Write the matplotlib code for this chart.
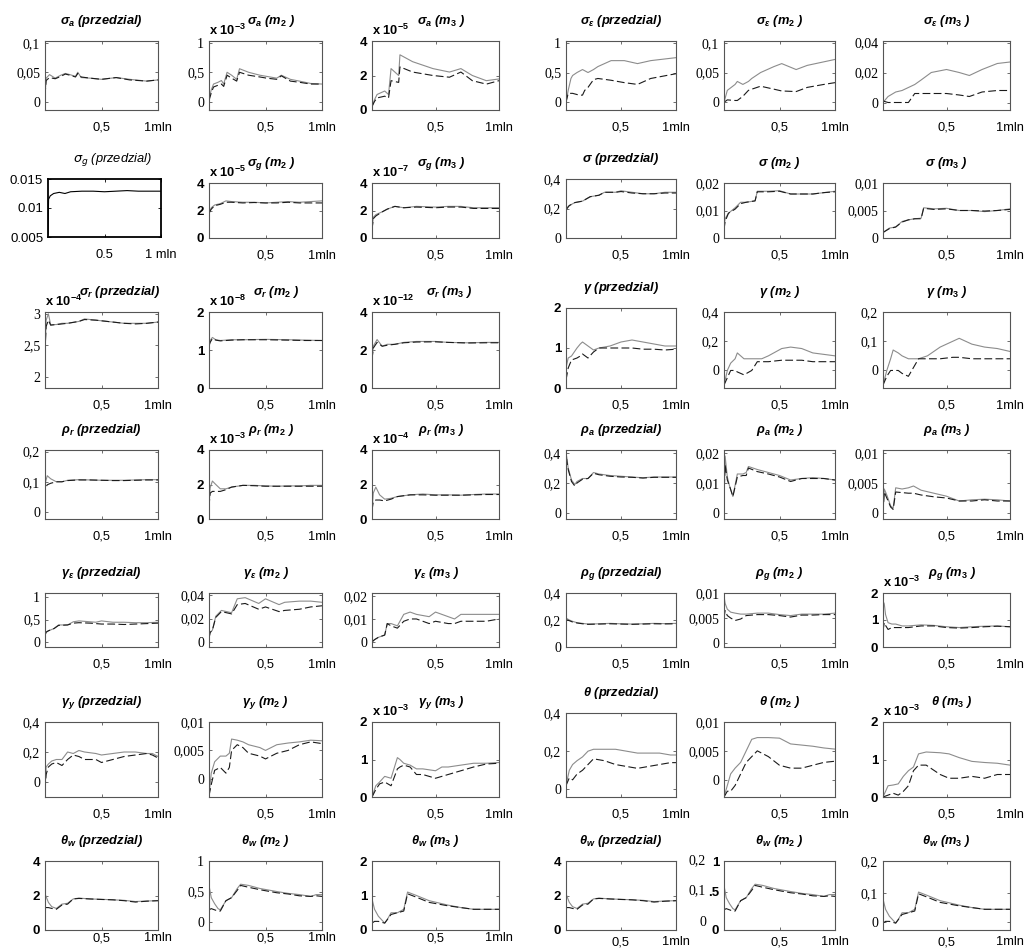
import matplotlib
matplotlib.use("Agg")
import matplotlib.pyplot as plt

plt.rcParams['mathtext.fontset'] = 'custom'
plt.rcParams['mathtext.rm'] = 'Liberation Sans:bold'
plt.rcParams['mathtext.it'] = 'Liberation Sans:italic:bold'
plt.rcParams['mathtext.bf'] = 'Liberation Sans:bold'

# ---------------- data (x in mln of draws) ----------------
# Row 1
sa_p_x = [0.0, 0.01, 0.04, 0.09, 0.14, 0.18, 0.22, 0.27, 0.29, 0.32, 0.4, 0.5, 0.63, 0.75, 0.9, 1.0]
sa_p_s = [0.01, 0.04, 0.046, 0.04, 0.045, 0.048, 0.046, 0.043, 0.05, 0.041, 0.04, 0.038, 0.041, 0.038, 0.035, 0.037]
sa_p_d = [0.01, 0.036, 0.041, 0.039, 0.043, 0.047, 0.045, 0.042, 0.048, 0.042, 0.04, 0.038, 0.041, 0.037, 0.035, 0.037]

sa_m2_x = [0.0, 0.02, 0.04, 0.08, 0.11, 0.13, 0.16, 0.2, 0.245, 0.27, 0.35, 0.45, 0.51, 0.6, 0.64, 0.72, 0.8, 0.9, 1.0]
sa_m2_s = [0.05, 0.2, 0.3, 0.33, 0.36, 0.3, 0.5, 0.45, 0.38, 0.56, 0.5, 0.45, 0.43, 0.4, 0.45, 0.38, 0.35, 0.31, 0.3]
sa_m2_d = [0.02, 0.15, 0.25, 0.28, 0.3, 0.26, 0.45, 0.4, 0.35, 0.5, 0.45, 0.42, 0.4, 0.38, 0.44, 0.35, 0.33, 0.3, 0.3]

sa_m3_x = [0.0, 0.02, 0.04, 0.1, 0.13, 0.15, 0.21, 0.22, 0.32, 0.48, 0.61, 0.7, 0.79, 0.9, 1.0]
sa_m3_s = [0.2, 0.6, 0.9, 1.1, 0.9, 2.4, 2.0, 3.2, 2.8, 2.4, 2.2, 2.4, 2.0, 1.7, 1.8]
sa_m3_d = [0.2, 0.5, 0.7, 0.8, 0.7, 1.7, 1.6, 2.5, 2.2, 2.0, 1.9, 2.2, 1.7, 1.5, 1.7]

se_p_x = [0.0, 0.02, 0.045, 0.06, 0.1, 0.12, 0.15, 0.17, 0.2, 0.25, 0.29, 0.41, 0.53, 0.65, 0.77, 1.0]
se_p_s = [0.0, 0.2, 0.4, 0.45, 0.5, 0.52, 0.55, 0.53, 0.5, 0.55, 0.6, 0.7, 0.7, 0.65, 0.7, 0.75]
se_p_d = [0.0, 0.15, 0.15, 0.15, 0.13, 0.12, 0.12, 0.2, 0.25, 0.38, 0.4, 0.37, 0.33, 0.3, 0.4, 0.48]

se_m2_x = [0.0, 0.03, 0.1, 0.12, 0.17, 0.22, 0.25, 0.33, 0.45, 0.52, 0.65, 0.75, 0.9, 1.0]
se_m2_s = [0.0, 0.02, 0.03, 0.035, 0.03, 0.035, 0.04, 0.05, 0.06, 0.065, 0.055, 0.062, 0.068, 0.072]
se_m2_d = [0.0, 0.004, 0.003, 0.003, 0.01, 0.02, 0.022, 0.027, 0.022, 0.019, 0.018, 0.025, 0.03, 0.033]

se_m3_x = [0.0, 0.04, 0.1, 0.15, 0.2, 0.25, 0.3, 0.38, 0.5, 0.6, 0.68, 0.78, 0.9, 1.0]
se_m3_s = [0.0, 0.004, 0.007, 0.008, 0.01, 0.012, 0.015, 0.02, 0.022, 0.02, 0.018, 0.022, 0.026, 0.027]
se_m3_d = [0.001, 0.0, 0.0, 0.0, 0.0, 0.006, 0.006, 0.006, 0.006, 0.005, 0.004, 0.007, 0.008, 0.008]

# Row 2
sg_p_x = [0.0, 0.005, 0.02, 0.05, 0.1, 0.15, 0.2, 0.3, 0.4, 0.5, 0.6, 0.7, 0.8, 0.9, 1.0]
sg_p_s = [0.0055, 0.0115, 0.0121, 0.0125, 0.0127, 0.0125, 0.0128, 0.0129, 0.0129, 0.0128, 0.0129, 0.013, 0.0129, 0.0129, 0.0129]

sg_m2_x = [0.0, 0.02, 0.05, 0.1, 0.15, 0.2, 0.3, 0.4, 0.5, 0.6, 0.7, 0.8, 0.9, 1.0]
sg_m2_s = [1.8, 2.2, 2.4, 2.5, 2.7, 2.65, 2.6, 2.6, 2.55, 2.6, 2.65, 2.6, 2.65, 2.7]
sg_m2_d = [1.8, 2.1, 2.35, 2.45, 2.6, 2.6, 2.55, 2.58, 2.55, 2.55, 2.6, 2.55, 2.55, 2.55]

sg_m3_x = [0.0, 0.01, 0.03, 0.08, 0.12, 0.18, 0.25, 0.35, 0.5, 0.6, 0.7, 0.8, 0.9, 1.0]
sg_m3_s = [0.6, 1.5, 1.7, 1.9, 2.1, 2.3, 2.2, 2.3, 2.25, 2.3, 2.3, 2.2, 2.2, 2.2]
sg_m3_d = [0.6, 1.4, 1.6, 1.9, 2.1, 2.3, 2.2, 2.25, 2.2, 2.25, 2.25, 2.15, 2.15, 2.15]

s_p_x = [0.0, 0.03, 0.08, 0.15, 0.22, 0.3, 0.35, 0.45, 0.5, 0.6, 0.7, 0.8, 0.9, 1.0]
s_p_s = [0.2, 0.22, 0.24, 0.25, 0.28, 0.29, 0.31, 0.31, 0.32, 0.31, 0.3, 0.3, 0.31, 0.31]
s_p_d = [0.19, 0.22, 0.24, 0.25, 0.28, 0.29, 0.31, 0.31, 0.315, 0.305, 0.3, 0.3, 0.305, 0.305]

s_m2_x = [0.0, 0.01, 0.04, 0.1, 0.15, 0.2, 0.28, 0.3, 0.4, 0.5, 0.6, 0.7, 0.8, 0.9, 1.0]
s_m2_s = [0.004, 0.007, 0.009, 0.011, 0.013, 0.013, 0.0135, 0.017, 0.017, 0.0172, 0.016, 0.016, 0.016, 0.0165, 0.017]
s_m2_d = [0.003, 0.006, 0.009, 0.0105, 0.0125, 0.013, 0.0135, 0.0168, 0.0168, 0.017, 0.016, 0.016, 0.016, 0.0165, 0.0168]

s_m3_x = [0.0, 0.05, 0.1, 0.15, 0.2, 0.25, 0.3, 0.32, 0.4, 0.5, 0.6, 0.7, 0.8, 0.9, 1.0]
s_m3_s = [0.001, 0.0018, 0.002, 0.003, 0.0033, 0.0035, 0.0036, 0.0055, 0.0053, 0.0054, 0.005, 0.005, 0.0048, 0.005, 0.0053]
s_m3_d = [0.001, 0.0017, 0.002, 0.0029, 0.0033, 0.0035, 0.0035, 0.0054, 0.0052, 0.0053, 0.005, 0.005, 0.0049, 0.005, 0.0052]

# Row 3
sr_p_x = [0.0, 0.01, 0.03, 0.05, 0.1, 0.15, 0.2, 0.3, 0.35, 0.45, 0.6, 0.7, 0.8, 0.9, 1.0]
sr_p_s = [2.4, 2.9, 3.0, 2.83, 2.83, 2.85, 2.85, 2.88, 2.92, 2.9, 2.87, 2.85, 2.85, 2.85, 2.87]
sr_p_d = [2.4, 2.8, 2.9, 2.82, 2.83, 2.84, 2.85, 2.88, 2.91, 2.9, 2.87, 2.85, 2.84, 2.85, 2.87]

sr_m2_x = [0.0, 0.01, 0.03, 0.06, 0.1, 0.2, 0.3, 0.5, 0.7, 0.85, 1.0]
sr_m2_s = [1.1, 1.25, 1.33, 1.27, 1.25, 1.27, 1.27, 1.28, 1.27, 1.26, 1.25]
sr_m2_d = [1.1, 1.2, 1.3, 1.26, 1.24, 1.26, 1.27, 1.27, 1.26, 1.25, 1.25]

sr_m3_x = [0.0, 0.01, 0.04, 0.08, 0.12, 0.18, 0.25, 0.35, 0.5, 0.6, 0.75, 0.9, 1.0]
sr_m3_s = [1.5, 2.2, 2.55, 2.2, 2.3, 2.3, 2.4, 2.45, 2.45, 2.4, 2.38, 2.4, 2.4]
sr_m3_d = [1.5, 2.1, 2.4, 2.2, 2.25, 2.3, 2.38, 2.42, 2.43, 2.4, 2.37, 2.38, 2.38]

g_p_x = [0.0, 0.02, 0.05, 0.1, 0.13, 0.15, 0.2, 0.25, 0.3, 0.4, 0.5, 0.6, 0.7, 0.8, 0.9, 1.0]
g_p_s = [0.5, 0.75, 0.8, 1.0, 1.1, 1.15, 1.05, 0.95, 1.0, 1.05, 1.15, 1.2, 1.15, 1.1, 1.05, 1.05]
g_p_d = [0.2, 0.5, 0.7, 0.75, 0.8, 0.85, 0.75, 0.9, 1.0, 1.0, 1.0, 1.0, 0.97, 0.97, 0.95, 0.97]

g_m2_x = [0.0, 0.03, 0.06, 0.1, 0.12, 0.18, 0.25, 0.3, 0.34, 0.4, 0.52, 0.6, 0.7, 0.8, 0.9, 1.0]
g_m2_s = [-0.1, 0.0, 0.05, 0.08, 0.12, 0.08, 0.08, 0.08, 0.08, 0.1, 0.15, 0.16, 0.15, 0.12, 0.11, 0.1]
g_m2_d = [-0.1, -0.05, 0.0, 0.0, -0.01, -0.03, 0.0, 0.06, 0.06, 0.06, 0.07, 0.07, 0.07, 0.06, 0.06, 0.06]

g_m3_x = [0.0, 0.03, 0.06, 0.08, 0.12, 0.15, 0.2, 0.28, 0.35, 0.45, 0.55, 0.6, 0.7, 0.8, 0.9, 1.0]
g_m3_s = [-0.05, 0.0, 0.04, 0.07, 0.06, 0.05, 0.04, 0.04, 0.05, 0.08, 0.1, 0.11, 0.09, 0.08, 0.075, 0.065]
g_m3_d = [-0.05, -0.02, 0.0, 0.0, 0.0, -0.01, -0.02, 0.04, 0.04, 0.04, 0.045, 0.045, 0.04, 0.04, 0.04, 0.04]

# Row 4
rr_p_x = [0.0, 0.005, 0.02, 0.05, 0.1, 0.15, 0.2, 0.3, 0.4, 0.5, 0.6, 0.7, 0.8, 0.9, 1.0]
rr_p_s = [0.05, 0.1, 0.12, 0.11, 0.1, 0.1, 0.105, 0.107, 0.106, 0.105, 0.105, 0.105, 0.106, 0.107, 0.107]
rr_p_d = [0.05, 0.08, 0.09, 0.095, 0.1, 0.1, 0.104, 0.106, 0.106, 0.105, 0.104, 0.104, 0.105, 0.106, 0.106]

rr_m2_x = [0.0, 0.01, 0.03, 0.06, 0.1, 0.15, 0.2, 0.3, 0.4, 0.5, 0.6, 0.7, 0.8, 0.9, 1.0]
rr_m2_s = [0.7, 1.8, 2.2, 2.0, 1.75, 1.75, 1.85, 1.95, 1.95, 1.92, 1.9, 1.92, 1.92, 1.95, 1.95]
rr_m2_d = [0.7, 1.5, 1.6, 1.6, 1.6, 1.7, 1.85, 1.95, 1.93, 1.9, 1.9, 1.9, 1.9, 1.9, 1.9]

rr_m3_x = [0.0, 0.01, 0.03, 0.06, 0.1, 0.15, 0.2, 0.3, 0.4, 0.5, 0.6, 0.7, 0.8, 0.9, 1.0]
rr_m3_s = [0.5, 1.5, 1.85, 1.4, 1.15, 1.2, 1.3, 1.4, 1.45, 1.4, 1.4, 1.38, 1.42, 1.45, 1.45]
rr_m3_d = [0.5, 1.0, 1.1, 1.1, 1.05, 1.15, 1.3, 1.4, 1.4, 1.38, 1.38, 1.38, 1.4, 1.42, 1.42]

ra_p_x = [0.0, 0.005, 0.02, 0.05, 0.08, 0.1, 0.15, 0.2, 0.25, 0.3, 0.4, 0.5, 0.6, 0.7, 0.8, 0.9, 1.0]
ra_p_s = [0.2, 0.38, 0.3, 0.22, 0.19, 0.21, 0.23, 0.23, 0.27, 0.26, 0.25, 0.245, 0.24, 0.235, 0.24, 0.24, 0.24]
ra_p_d = [0.2, 0.36, 0.29, 0.21, 0.18, 0.2, 0.225, 0.23, 0.265, 0.255, 0.245, 0.24, 0.238, 0.233, 0.238, 0.238, 0.238]

ra_m2_x = [0.0, 0.01, 0.03, 0.05, 0.08, 0.12, 0.17, 0.2, 0.22, 0.3, 0.4, 0.5, 0.6, 0.7, 0.8, 0.9, 1.0]
ra_m2_s = [0.005, 0.019, 0.012, 0.009, 0.0055, 0.013, 0.013, 0.0135, 0.0155, 0.0145, 0.0135, 0.0125, 0.011, 0.0115, 0.0118, 0.0115, 0.011]
ra_m2_d = [0.005, 0.016, 0.011, 0.009, 0.0055, 0.012, 0.0125, 0.0125, 0.015, 0.0138, 0.013, 0.012, 0.0105, 0.0115, 0.0115, 0.0115, 0.011]

ra_m3_x = [0.0, 0.01, 0.03, 0.06, 0.08, 0.1, 0.15, 0.2, 0.24, 0.3, 0.4, 0.5, 0.6, 0.7, 0.8, 0.9, 1.0]
ra_m3_s = [0.0, 0.004, 0.003, 0.0012, 0.0008, 0.0042, 0.004, 0.0042, 0.0045, 0.0038, 0.0033, 0.0028, 0.002, 0.0022, 0.0023, 0.0022, 0.002]
ra_m3_d = [0.0, 0.0035, 0.0025, 0.001, 0.0006, 0.0035, 0.0034, 0.0033, 0.0033, 0.003, 0.0027, 0.0025, 0.002, 0.002, 0.0022, 0.002, 0.002]

# Row 5
ge_p_x = [0.0, 0.01, 0.03, 0.08, 0.12, 0.2, 0.25, 0.3, 0.4, 0.45, 0.5, 0.6, 0.7, 0.8, 0.9, 1.0]
ge_p_s = [0.15, 0.22, 0.25, 0.3, 0.38, 0.38, 0.45, 0.47, 0.45, 0.44, 0.47, 0.44, 0.44, 0.43, 0.43, 0.44]
ge_p_d = [0.15, 0.22, 0.25, 0.3, 0.37, 0.38, 0.42, 0.43, 0.42, 0.41, 0.4, 0.4, 0.39, 0.4, 0.41, 0.42]

ge_m2_x = [0.0, 0.01, 0.03, 0.06, 0.11, 0.2, 0.25, 0.32, 0.44, 0.5, 0.62, 0.67, 0.8, 0.9, 1.0]
ge_m2_s = [0.003, 0.008, 0.01, 0.022, 0.027, 0.025, 0.037, 0.038, 0.033, 0.037, 0.032, 0.034, 0.035, 0.035, 0.034]
ge_m2_d = [0.003, 0.008, 0.01, 0.021, 0.026, 0.024, 0.032, 0.033, 0.028, 0.03, 0.026, 0.027, 0.028, 0.03, 0.031]

ge_m3_x = [0.0, 0.02, 0.05, 0.1, 0.12, 0.15, 0.2, 0.25, 0.3, 0.35, 0.45, 0.5, 0.6, 0.65, 0.7, 0.8, 0.9, 1.0]
ge_m3_s = [0.0, 0.001, 0.002, 0.003, 0.008, 0.008, 0.007, 0.012, 0.013, 0.012, 0.011, 0.013, 0.011, 0.01, 0.012, 0.012, 0.012, 0.012]
ge_m3_d = [0.0, 0.001, 0.002, 0.003, 0.008, 0.007, 0.006, 0.009, 0.01, 0.01, 0.008, 0.009, 0.008, 0.008, 0.009, 0.009, 0.009, 0.01]

rg_p_x = [0.0, 0.01, 0.03, 0.06, 0.1, 0.15, 0.2, 0.3, 0.4, 0.5, 0.6, 0.7, 0.8, 0.9, 1.0]
rg_p_s = [0.19, 0.21, 0.2, 0.19, 0.18, 0.175, 0.17, 0.172, 0.175, 0.172, 0.17, 0.172, 0.175, 0.173, 0.175]
rg_p_d = [0.19, 0.2, 0.195, 0.185, 0.178, 0.172, 0.168, 0.17, 0.172, 0.17, 0.168, 0.17, 0.172, 0.171, 0.172]

rg_m2_x = [0.0, 0.01, 0.03, 0.06, 0.1, 0.15, 0.2, 0.3, 0.4, 0.5, 0.6, 0.7, 0.8, 0.9, 1.0]
rg_m2_s = [0.0095, 0.008, 0.0068, 0.0062, 0.006, 0.0058, 0.0058, 0.006, 0.006, 0.0057, 0.0055, 0.0058, 0.0058, 0.0058, 0.006]
rg_m2_d = [0.005, 0.0065, 0.0055, 0.005, 0.0045, 0.0048, 0.0055, 0.0057, 0.0057, 0.0055, 0.0052, 0.0056, 0.0056, 0.0057, 0.0057]

rg_m3_x = [0.0, 0.01, 0.02, 0.04, 0.07, 0.1, 0.15, 0.2, 0.3, 0.4, 0.5, 0.6, 0.7, 0.8, 0.9, 1.0]
rg_m3_s = [1.7, 1.6, 1.2, 0.9, 0.85, 0.85, 0.78, 0.78, 0.82, 0.8, 0.75, 0.72, 0.75, 0.77, 0.78, 0.75]
rg_m3_d = [0.6, 0.9, 0.8, 0.65, 0.72, 0.72, 0.72, 0.72, 0.78, 0.78, 0.72, 0.7, 0.72, 0.75, 0.77, 0.75]

# Row 6
gy_p_x = [0.0, 0.01, 0.03, 0.06, 0.1, 0.15, 0.2, 0.25, 0.3, 0.35, 0.45, 0.5, 0.6, 0.7, 0.8, 0.9, 0.95, 1.0]
gy_p_s = [-0.05, 0.1, 0.12, 0.14, 0.15, 0.15, 0.2, 0.19, 0.21, 0.2, 0.19, 0.18, 0.19, 0.2, 0.2, 0.19, 0.19, 0.17]
gy_p_d = [-0.05, 0.05, 0.1, 0.12, 0.13, 0.11, 0.15, 0.18, 0.17, 0.15, 0.15, 0.13, 0.15, 0.17, 0.18, 0.19, 0.18, 0.16]

gy_m2_x = [0.0, 0.02, 0.05, 0.1, 0.15, 0.18, 0.2, 0.25, 0.3, 0.35, 0.45, 0.5, 0.6, 0.7, 0.8, 0.9, 1.0]
gy_m2_s = [-0.003, 0.001, 0.003, 0.004, 0.004, 0.0045, 0.007, 0.0068, 0.0065, 0.006, 0.0055, 0.005, 0.006, 0.0063, 0.0065, 0.0068, 0.0067]
gy_m2_d = [-0.003, -0.001, 0.0015, 0.002, 0.001, 0.002, 0.005, 0.006, 0.0055, 0.0045, 0.004, 0.0035, 0.0045, 0.005, 0.006, 0.0065, 0.0062]

gy_m3_x = [0.0, 0.03, 0.06, 0.1, 0.15, 0.2, 0.22, 0.25, 0.3, 0.35, 0.4, 0.5, 0.55, 0.6, 0.7, 0.8, 0.9, 1.0]
gy_m3_s = [0.0, 0.3, 0.4, 0.55, 0.5, 1.05, 1.0, 0.9, 0.85, 0.75, 0.75, 0.7, 0.8, 0.8, 0.85, 0.9, 0.9, 0.92]
gy_m3_d = [0.0, 0.2, 0.35, 0.4, 0.3, 0.75, 0.8, 0.85, 0.8, 0.6, 0.6, 0.5, 0.55, 0.6, 0.7, 0.8, 0.88, 0.9]

t_p_x = [0.0, 0.03, 0.06, 0.1, 0.15, 0.2, 0.25, 0.35, 0.45, 0.55, 0.65, 0.75, 0.85, 0.95, 1.0]
t_p_s = [0.02, 0.1, 0.13, 0.15, 0.17, 0.2, 0.21, 0.21, 0.21, 0.2, 0.19, 0.19, 0.19, 0.18, 0.18]
t_p_d = [0.02, 0.06, 0.05, 0.08, 0.1, 0.13, 0.16, 0.15, 0.13, 0.12, 0.11, 0.12, 0.13, 0.14, 0.14]

t_m2_x = [0.0, 0.03, 0.06, 0.1, 0.15, 0.2, 0.25, 0.3, 0.4, 0.5, 0.6, 0.7, 0.8, 0.9, 1.0]
t_m2_s = [-0.003, -0.001, 0.001, 0.002, 0.003, 0.005, 0.007, 0.0073, 0.0073, 0.0072, 0.0062, 0.006, 0.0058, 0.0055, 0.0053]
t_m2_d = [-0.003, -0.002, -0.002, -0.001, 0.001, 0.003, 0.004, 0.005, 0.004, 0.0025, 0.002, 0.002, 0.0025, 0.003, 0.0032]

t_m3_x = [0.0, 0.04, 0.08, 0.12, 0.16, 0.2, 0.24, 0.28, 0.34, 0.45, 0.52, 0.6, 0.7, 0.8, 0.9, 1.0]
t_m3_s = [0.0, 0.3, 0.32, 0.35, 0.55, 0.7, 0.8, 1.15, 1.2, 1.18, 1.15, 1.05, 0.95, 0.92, 0.9, 0.85]
t_m3_d = [0.0, 0.05, 0.1, 0.05, 0.15, 0.3, 0.7, 0.85, 0.85, 0.6, 0.5, 0.5, 0.55, 0.5, 0.6, 0.6]

# Row 7
tw_p_x = [0.0, 0.03, 0.06, 0.1, 0.15, 0.2, 0.25, 0.3, 0.4, 0.5, 0.6, 0.7, 0.8, 0.9, 1.0]
tw_p_s = [2.1, 1.6, 1.35, 1.25, 1.5, 1.55, 1.8, 1.85, 1.8, 1.78, 1.75, 1.72, 1.65, 1.68, 1.7]
tw_p_d = [1.3, 1.3, 1.25, 1.2, 1.45, 1.5, 1.8, 1.83, 1.8, 1.77, 1.75, 1.7, 1.62, 1.67, 1.7]

tw_m2_x = [0.0, 0.02, 0.05, 0.08, 0.1, 0.15, 0.2, 0.25, 0.28, 0.35, 0.45, 0.6, 0.7, 0.8, 0.9, 0.95, 1.0]
tw_m2_s = [0.6, 0.4, 0.3, 0.22, 0.2, 0.35, 0.4, 0.55, 0.62, 0.6, 0.55, 0.5, 0.47, 0.45, 0.42, 0.45, 0.45]
tw_m2_d = [0.2, 0.22, 0.2, 0.18, 0.18, 0.35, 0.4, 0.52, 0.6, 0.57, 0.53, 0.48, 0.46, 0.43, 0.42, 0.43, 0.42]

tw_m3_x = [0.0, 0.02, 0.05, 0.1, 0.12, 0.15, 0.2, 0.25, 0.28, 0.35, 0.45, 0.6, 0.7, 0.8, 0.9, 1.0]
tw_m3_s = [0.9, 0.6, 0.4, 0.2, 0.3, 0.5, 0.5, 0.6, 1.1, 1.0, 0.85, 0.72, 0.65, 0.6, 0.6, 0.6]
tw_m3_d = [0.2, 0.25, 0.25, 0.2, 0.3, 0.45, 0.5, 0.55, 1.05, 0.95, 0.8, 0.7, 0.65, 0.6, 0.6, 0.6]

x_tick_pos = [0.5, 1.0]
x_tick_lab = ['0,5', '1mln']

# ---------------- layout ----------------
W, H = 1024, 950
COLS = [(45, 158), (209, 322), (372, 499), (566, 676), (724, 835), (883, 1010)]
ROWS = [(41, 110), (183, 238), (312, 388), (450, 519), (593, 647), (722, 797), (861, 930)]

fig = plt.figure(figsize=(W / 100, H / 100), dpi=100)
fig.patch.set_facecolor('white')

FONTS = {
    'serif': dict(fontfamily='Liberation Serif', fontsize=10),
    'bold': dict(fontfamily='Liberation Sans', fontweight='bold', fontsize=9.5),
    'sans': dict(fontfamily='Liberation Sans', fontsize=9.5),
}


def panel(r, c, title, x, s, d, ylim, yticks, ylabels, yfont, mult=None,
          top=None, box=None, xlabels=None, frame='#555555', lw_frame=0.8,
          title_kw=None, line_color='#8c8c8c', extra=None, dx=None, xpad=8.5):
    L, R = COLS[c]
    T, B = ROWS[r]
    if top is not None:
        T = top
    if box is not None:
        L, R, T, B = box
    ax = fig.add_axes([L / W, 1 - B / H, (R - L) / W, (B - T) / H])
    ax.plot(x, s, color=line_color, lw=0.8)
    if d is not None:
        ax.plot(x, d, color='#1a1a1a', lw=0.8, dashes=(7, 3))
    ax.set_xlim(0, 1)
    ax.set_ylim(*ylim)
    ax.set_xticks(x_tick_pos)
    ax.set_xticklabels(xlabels if xlabels else x_tick_lab,
                       fontfamily='Liberation Sans', fontsize=9.3)
    ax.set_yticks(yticks)
    ax.set_yticklabels(ylabels, **FONTS[yfont])
    ax.tick_params(direction='in', length=2.5, width=0.6, top=True, right=True,
                   color=frame)
    ax.tick_params(axis='x', pad=xpad)
    ax.tick_params(axis='y', pad=3.5)
    for sp in ax.spines.values():
        sp.set_color(frame)
        sp.set_linewidth(lw_frame)
    tk = dict(fontfamily='Liberation Sans', fontstyle='italic',
              fontweight='bold', fontsize=9.3)
    if title_kw:
        tk.update(title_kw)
    if dx is None:
        dx = 4 if mult else 0
    ax.annotate(title, xy=(0.5, 1), xycoords='axes fraction', xytext=(dx, 12),
                textcoords='offset points', ha='center', va='baseline', **tk)
    if mult:
        ax.annotate(mult, xy=(0, 1), xycoords='axes fraction', xytext=(0, 4),
                    textcoords='offset points', ha='left', va='baseline',
                    fontfamily='Liberation Sans', fontweight='bold', fontsize=9.3)
    if extra:
        for lab, yv in extra:
            ax.annotate(lab, xy=(0, yv), xycoords=('axes fraction', 'data'),
                        xytext=(-13, 0), textcoords='offset points',
                        ha='right', va='center', **FONTS['serif'])
    return ax


SE = r'\varepsilon'
# Row 1
panel(0, 0, r'$\sigma_a$ (przedzial)', sa_p_x, sa_p_s, sa_p_d, (-0.014, 0.103),
      [0, 0.05, 0.1], ['0', '0,05', '0,1'], 'serif')
panel(0, 1, r'$\sigma_a$ ($m_2$ )', sa_m2_x, sa_m2_s, sa_m2_d, (-0.14, 1.03),
      [0, 0.5, 1], ['0', '0,5', '1'], 'serif', mult=r'x 10$^{-3}$')
panel(0, 2, r'$\sigma_a$ ($m_3$ )', sa_m3_x, sa_m3_s, sa_m3_d, (0, 4),
      [0, 2, 4], ['0', '2', '4'], 'bold', mult=r'x 10$^{-5}$')
panel(0, 3, r'$\sigma_%s$ (przedzial)' % SE, se_p_x, se_p_s, se_p_d, (-0.13, 1.03),
      [0, 0.5, 1], ['0', '0,5', '1'], 'serif')
panel(0, 4, r'$\sigma_%s$ ($m_2$ )' % SE, se_m2_x, se_m2_s, se_m2_d, (-0.013, 0.103),
      [0, 0.05, 0.1], ['0', '0,05', '0,1'], 'serif')
panel(0, 5, r'$\sigma_%s$ ($m_3$ )' % SE, se_m3_x, se_m3_s, se_m3_d, (-0.005, 0.041),
      [0, 0.02, 0.04], ['0', '0,02', '0,04'], 'serif')

# Row 2
panel(1, 0, r'$\sigma_g$ (przedzial)', sg_p_x, sg_p_s, None, (0.005, 0.015),
      [0.005, 0.01, 0.015], ['0.005', '0.01', '0.015'], 'sans',
      box=(48, 161, 179, 237), xlabels=['0.5', '1 mln'], frame='black',
      lw_frame=1.3, line_color='black', dx=6,
      title_kw=dict(fontweight='normal', math_fontfamily='dejavusans', fontsize=9.3))
panel(1, 1, r'$\sigma_g$ ($m_2$ )', sg_m2_x, sg_m2_s, sg_m2_d, (0, 4),
      [0, 2, 4], ['0', '2', '4'], 'bold', mult=r'x 10$^{-5}$')
panel(1, 2, r'$\sigma_g$ ($m_3$ )', sg_m3_x, sg_m3_s, sg_m3_d, (0, 4),
      [0, 2, 4], ['0', '2', '4'], 'bold', mult=r'x 10$^{-7}$')
panel(1, 3, r'$\sigma$ (przedzial)', s_p_x, s_p_s, s_p_d, (0, 0.4),
      [0, 0.2, 0.4], ['0', '0,2', '0,4'], 'serif', top=179)
panel(1, 4, r'$\sigma$ ($m_2$ )', s_m2_x, s_m2_s, s_m2_d, (0, 0.02),
      [0, 0.01, 0.02], ['0', '0,01', '0,02'], 'serif')
panel(1, 5, r'$\sigma$ ($m_3$ )', s_m3_x, s_m3_s, s_m3_d, (0, 0.01),
      [0, 0.005, 0.01], ['0', '0,005', '0,01'], 'serif')

# Row 3
panel(2, 0, r'$\sigma_r$ (przedzial)', sr_p_x, sr_p_s, sr_p_d, (1.82, 3.03),
      [2, 2.5, 3], ['2', '2,5', '3'], 'serif', mult=r'x 10$^{-4}$', dx=13)
panel(2, 1, r'$\sigma_r$ ($m_2$ )', sr_m2_x, sr_m2_s, sr_m2_d, (0, 2),
      [0, 1, 2], ['0', '1', '2'], 'bold', mult=r'x 10$^{-8}$', dx=8)
panel(2, 2, r'$\sigma_r$ ($m_3$ )', sr_m3_x, sr_m3_s, sr_m3_d, (0, 4),
      [0, 2, 4], ['0', '2', '4'], 'bold', mult=r'x 10$^{-12}$', dx=10)
panel(2, 3, r'$\gamma$ (przedzial)', g_p_x, g_p_s, g_p_d, (0, 2),
      [0, 1, 2], ['0', '1', '2'], 'bold', top=308)
panel(2, 4, r'$\gamma$ ($m_2$ )', g_m2_x, g_m2_s, g_m2_d, (-0.12, 0.4),
      [0, 0.2, 0.4], ['0', '0,2', '0,4'], 'serif')
panel(2, 5, r'$\gamma$ ($m_3$ )', g_m3_x, g_m3_s, g_m3_d, (-0.06, 0.2),
      [0, 0.1, 0.2], ['0', '0,1', '0,2'], 'serif')

# Row 4
panel(3, 0, r'$\rho_r$ (przedzial)', rr_p_x, rr_p_s, rr_p_d, (-0.023, 0.205),
      [0, 0.1, 0.2], ['0', '0,1', '0,2'], 'serif')
panel(3, 1, r'$\rho_r$ ($m_2$ )', rr_m2_x, rr_m2_s, rr_m2_d, (0, 4),
      [0, 2, 4], ['0', '2', '4'], 'bold', mult=r'x 10$^{-3}$')
panel(3, 2, r'$\rho_r$ ($m_3$ )', rr_m3_x, rr_m3_s, rr_m3_d, (0, 4),
      [0, 2, 4], ['0', '2', '4'], 'bold', mult=r'x 10$^{-4}$')
panel(3, 3, r'$\rho_a$ (przedzial)', ra_p_x, ra_p_s, ra_p_d, (-0.04, 0.42),
      [0, 0.2, 0.4], ['0', '0,2', '0,4'], 'serif')
panel(3, 4, r'$\rho_a$ ($m_2$ )', ra_m2_x, ra_m2_s, ra_m2_d, (-0.002, 0.021),
      [0, 0.01, 0.02], ['0', '0,01', '0,02'], 'serif')
panel(3, 5, r'$\rho_a$ ($m_3$ )', ra_m3_x, ra_m3_s, ra_m3_d, (-0.001, 0.0105),
      [0, 0.005, 0.01], ['0', '0,005', '0,01'], 'serif')

# Row 5
panel(4, 0, r'$\gamma_%s$ (przedzial)' % SE, ge_p_x, ge_p_s, ge_p_d, (-0.11, 1.09),
      [0, 0.5, 1], ['0', '0,5', '1'], 'serif')
panel(4, 1, r'$\gamma_%s$ ($m_2$ )' % SE, ge_m2_x, ge_m2_s, ge_m2_d, (-0.0045, 0.042),
      [0, 0.02, 0.04], ['0', '0,02', '0,04'], 'serif')
panel(4, 2, r'$\gamma_%s$ ($m_3$ )' % SE, ge_m3_x, ge_m3_s, ge_m3_d, (-0.0022, 0.0213),
      [0, 0.01, 0.02], ['0', '0,01', '0,02'], 'serif')
panel(4, 3, r'$\rho_g$ (przedzial)', rg_p_x, rg_p_s, rg_p_d, (0, 0.4),
      [0, 0.2, 0.4], ['0', '0,2', '0,4'], 'serif')
panel(4, 4, r'$\rho_g$ ($m_2$ )', rg_m2_x, rg_m2_s, rg_m2_d, (-0.0009, 0.0101),
      [0, 0.005, 0.01], ['0', '0,005', '0,01'], 'serif')
panel(4, 5, r'$\rho_g$ ($m_3$ )', rg_m3_x, rg_m3_s, rg_m3_d, (0, 2),
      [0, 1, 2], ['0', '1', '2'], 'bold', mult=r'x 10$^{-3}$')

# Row 6
panel(5, 0, r'$\gamma_y$ (przedzial)', gy_p_x, gy_p_s, gy_p_d, (-0.1, 0.4),
      [0, 0.2, 0.4], ['0', '0,2', '0,4'], 'serif')
panel(5, 1, r'$\gamma_y$ ($m_2$ )', gy_m2_x, gy_m2_s, gy_m2_d, (-0.0032, 0.01),
      [0, 0.005, 0.01], ['0', '0,005', '0,01'], 'serif')
panel(5, 2, r'$\gamma_y$ ($m_3$ )', gy_m3_x, gy_m3_s, gy_m3_d, (0, 2),
      [0, 1, 2], ['0', '1', '2'], 'bold', mult=r'x 10$^{-3}$')
panel(5, 3, r'$\theta$ (przedzial)', t_p_x, t_p_s, t_p_d, (-0.04, 0.4),
      [0, 0.2, 0.4], ['0', '0,2', '0,4'], 'serif', top=713)
panel(5, 4, r'$\theta$ ($m_2$ )', t_m2_x, t_m2_s, t_m2_d, (-0.003, 0.01),
      [0, 0.005, 0.01], ['0', '0,005', '0,01'], 'serif')
panel(5, 5, r'$\theta$ ($m_3$ )', t_m3_x, t_m3_s, t_m3_d, (0, 2),
      [0, 1, 2], ['0', '1', '2'], 'bold', mult=r'x 10$^{-3}$')

# Row 7
panel(6, 0, r'$\theta_w$ (przedzial)', tw_p_x, tw_p_s, tw_p_d, (0, 4),
      [0, 2, 4], ['0', '2', '4'], 'bold', xpad=1.5)
panel(6, 1, r'$\theta_w$ ($m_2$ )', tw_m2_x, tw_m2_s, tw_m2_d, (-0.13, 1.0),
      [0, 0.5, 1], ['0', '0,5', '1'], 'serif', xpad=1.5)
panel(6, 2, r'$\theta_w$ ($m_3$ )', tw_m3_x, tw_m3_s, tw_m3_d, (0, 2),
      [0, 1, 2], ['0', '1', '2'], 'bold', xpad=1.5)
panel(6, 3, r'$\theta_w$ (przedzial)', tw_p_x, tw_p_s, tw_p_d, (0, 4),
      [0, 2, 4], ['0', '2', '4'], 'bold', xpad=4.5)
panel(6, 4, r'$\theta_w$ ($m_2$ )', tw_m2_x, tw_m2_s, tw_m2_d, (-0.13, 1.0),
      [-0.13, 0.5, 1], ['0', '.5', '1'], 'bold', xpad=4.5,
      extra=[('0,2', 1.0), ('0,1', 0.52), ('0', 0.0)])
panel(6, 5, r'$\theta_w$ ($m_3$ )', tw_m3_x, tw_m3_s, tw_m3_d, (0, 2),
      [0.23, 1.07, 2], ['0', '0,1', '0,2'], 'serif', xpad=4.5)

fig.savefig('out.png', dpi=100, facecolor='white')
